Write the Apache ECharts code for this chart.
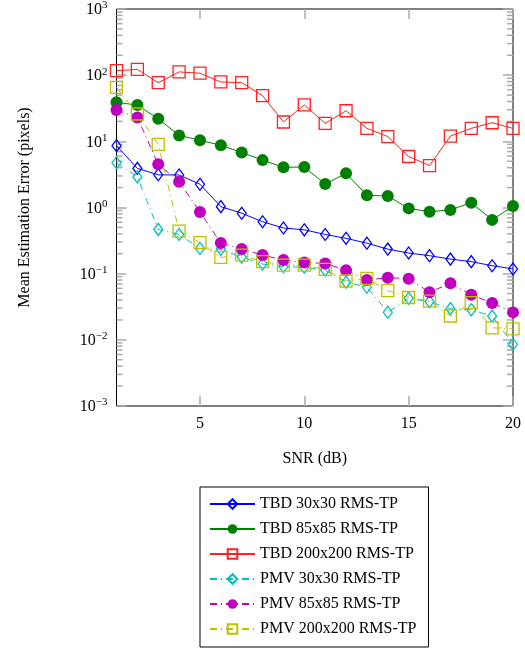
<!DOCTYPE html>
<html>
<head>
<meta charset="utf-8">
<script src="https://cdn.jsdelivr.net/npm/echarts@6/dist/echarts.min.js"></script>
<style>
html, body { margin: 0; padding: 0; background: #fff; }
#chart { width: 525px; height: 650px; }
</style>
</head>
<body>
<div id="chart"></div>
<script>
// SNR 横轴
var snr = [1, 2, 3, 4, 5, 6, 7, 8, 9, 10, 11, 12, 13, 14, 15, 16, 17, 18, 19, 20];
var xTicks = [5, 10, 15, 20];
var minorSteps = [2, 3, 4, 5, 6, 7, 8, 9];

// 各曲线数值（像素误差）
var tbd30 = [8.6, 3.9, 3.12, 3.1, 2.25, 1.03, 0.82, 0.61, 0.49, 0.46, 0.391, 0.342, 0.289, 0.235, 0.205, 0.187, 0.166, 0.152, 0.132, 0.118];
var tbd85 = [38.9, 35.3, 21.9, 12.3, 10.4, 8.7, 6.8, 5.2, 4.05, 4.1, 2.26, 3.29, 1.53, 1.49, 0.97, 0.865, 0.92, 1.18, 0.65, 1.05];
var tbd200 = [117, 122, 77, 112, 107, 79, 77, 49, 19.6, 35.5, 18.7, 29, 15.7, 11.8, 5.9, 4.3, 12, 15.7, 19.1, 15.7];
var pmv30 = [4.75, 2.9, 0.467, 0.39, 0.24, 0.233, 0.178, 0.14, 0.128, 0.125, 0.113, 0.0745, 0.0625, 0.0262, 0.0424, 0.0378, 0.0296, 0.0284, 0.0228, 0.0086];
var pmv85 = [29.8, 23, 4.5, 2.45, 0.855, 0.29, 0.235, 0.191, 0.161, 0.147, 0.143, 0.113, 0.080, 0.087, 0.084, 0.0525, 0.0714, 0.048, 0.036, 0.026];
var pmv200 = [65.6, 25.9, 9.0, 0.44, 0.294, 0.176, 0.191, 0.152, 0.135, 0.135, 0.116, 0.0775, 0.085, 0.0553, 0.0436, 0.0385, 0.0229, 0.0364, 0.0152, 0.0146];

var names = ['TBD 30x30 RMS-TP', 'TBD 85x85 RMS-TP', 'TBD 200x200 RMS-TP',
	'PMV 30x30 RMS-TP', 'PMV 85x85 RMS-TP', 'PMV 200x200 RMS-TP'];

var FONT = 'Liberation Serif';
var TICK = '#aaaaaa';
var dashDot = [7, 4, 1, 4];

function pairs(vals) {
	return snr.map(function (x, i) { return [x, vals[i]]; });
}

/**
 * 生成一条曲线
 */
function makeSeries(name, vals, color, symbol, size, hollow, dashed) {
	return {
		name: name,
		type: 'line',
		data: pairs(vals),
		symbol: symbol,
		symbolSize: size,
		showSymbol: true,
		animation: false,
		itemStyle: {
			color: hollow ? 'rgba(255,255,255,0)' : color,
			borderColor: color,
			borderWidth: hollow ? 1.3 : 0
		},
		lineStyle: {
			color: color,
			width: 1,
			type: dashed ? dashDot : 'solid'
		}
	};
}

// 对数轴次刻度（左右两侧）
var minorData = [];
for (var k = -3; k < 3; k++) {
	minorSteps.forEach(function (m) { minorData.push([1, m * Math.pow(10, k)]); });
}

function renderMinorTick(params, api) {
	var pt = api.coord([api.value(0), api.value(1)]);
	var cs = params.coordSys;
	return {
		type: 'group',
		children: [
			{ type: 'line', shape: { x1: cs.x, y1: pt[1], x2: cs.x + 6, y2: pt[1] }, style: { stroke: TICK, lineWidth: 1.5 } },
			{ type: 'line', shape: { x1: cs.x + cs.width - 6, y1: pt[1], x2: cs.x + cs.width, y2: pt[1] }, style: { stroke: TICK, lineWidth: 1.5 } }
		]
	};
}

function supLabel(v) {
	var e = Math.round(Math.log10(v));
	return '{b|10}{s|' + (e < 0 ? '\u2212' + (-e) : e) + '}';
}

var myChart = echarts.init(document.getElementById('chart'), null, { renderer: 'canvas' });

var yBase = {
	type: 'log',
	logBase: 10,
	min: 0.001,
	max: 1000,
	splitLine: { show: false },
	axisLine: { show: false },
	axisTick: { inside: true, length: 10, lineStyle: { color: TICK, width: 1.5 } }
};

var option = {
	backgroundColor: '#fff',
	animation: false,
	textStyle: { fontFamily: FONT, color: '#000' },
	grid: {
		left: 116.5, right: 12, top: 9, bottom: 244,
		show: true, borderColor: '#000', borderWidth: 1, backgroundColor: 'transparent'
	},
	legend: {
		data: names,
		orient: 'vertical',
		left: 200,
		top: 487,
		itemWidth: 45,
		itemHeight: 12,
		itemGap: 9,
		padding: [9, 12, 10, 9],
		borderColor: '#000',
		borderWidth: 1,
		textStyle: { fontFamily: FONT, fontSize: 16, color: '#000' }
	},
	xAxis: [{
		type: 'value',
		min: 1,
		max: 20,
		name: 'SNR (dB)',
		nameLocation: 'middle',
		nameGap: 45,
		nameTextStyle: { fontFamily: FONT, fontSize: 16, color: '#000' },
		splitLine: { show: false },
		axisLine: { show: false },
		axisTick: { inside: true, length: 10, customValues: xTicks, lineStyle: { color: TICK, width: 1.5 } },
		axisLabel: { customValues: xTicks, margin: 10, fontFamily: FONT, fontSize: 16, color: '#000' }
	}, {
		type: 'value',
		position: 'top',
		min: 1,
		max: 20,
		splitLine: { show: false },
		axisLine: { show: false },
		axisTick: { inside: true, length: 10, customValues: xTicks, lineStyle: { color: TICK, width: 1.5 } },
		axisLabel: { show: false }
	}],
	yAxis: [echarts.util.merge({
		name: 'Mean Estimation Error (pixels)',
		nameLocation: 'middle',
		nameGap: 84,
		nameTextStyle: { fontFamily: FONT, fontSize: 16, color: '#000' },
		axisLabel: {
			margin: 9,
			formatter: supLabel,
			rich: {
				b: { fontFamily: FONT, fontSize: 16, lineHeight: 18, verticalAlign: 'bottom', color: '#000' },
				s: { fontFamily: FONT, fontSize: 11, lineHeight: 18, verticalAlign: 'top', color: '#000' }
			}
		}
	}, yBase, true), echarts.util.merge({
		position: 'right',
		axisLabel: { show: false }
	}, yBase, true)],
	series: [
		makeSeries(names[0], tbd30, '#0000ff', 'diamond', [9, 12], true, false),
		makeSeries(names[1], tbd85, '#008000', 'circle', 12, false, false),
		makeSeries(names[2], tbd200, '#ff2020', 'rect', 12, true, false),
		makeSeries(names[3], pmv30, '#00bfbf', 'diamond', [9, 12], true, true),
		makeSeries(names[4], pmv85, '#bf00bf', 'circle', 12, false, true),
		makeSeries(names[5], pmv200, '#bfbf00', 'rect', 12, true, true),
		{
			name: 'minorTicks',
			type: 'custom',
			silent: true,
			data: minorData,
			renderItem: renderMinorTick,
			z: 1
		}
	]
};

myChart.setOption(option);
window.onresize = myChart.resize;
</script>
</body>
</html>
